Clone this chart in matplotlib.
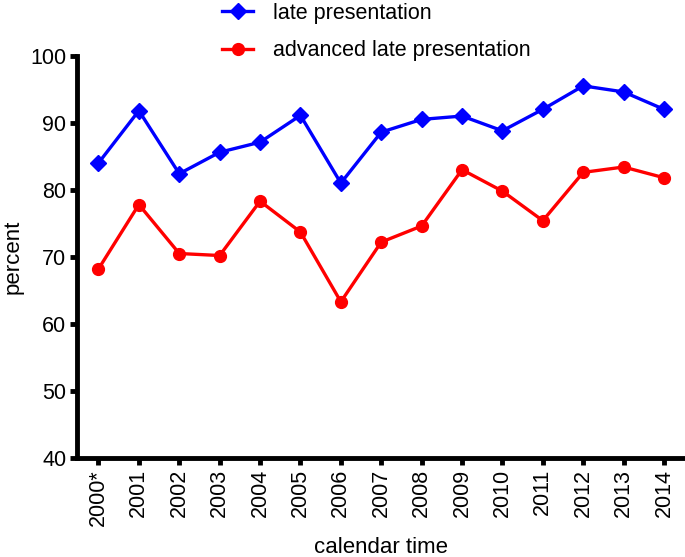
import matplotlib
matplotlib.use("Agg")
import matplotlib.pyplot as plt

plt.rcParams['font.family'] = ['Liberation Sans', 'DejaVu Sans']

years = ["2000*", "2001", "2002", "2003", "2004", "2005", "2006", "2007",
         "2008", "2009", "2010", "2011", "2012", "2013", "2014"]
late = [84.0, 91.8, 82.4, 85.6, 87.1, 91.1, 81.0, 88.6, 90.5, 91.0, 88.8,
        92.0, 95.5, 94.6, 92.0]
advanced = [68.2, 77.8, 70.5, 70.2, 78.3, 73.7, 63.3, 72.2, 74.6, 83.0,
            79.8, 75.4, 82.6, 83.4, 81.8]
yticks = [40, 50, 60, 70, 80, 90, 100]

fig = plt.figure(figsize=(6.85, 5.57), dpi=100)
ax = fig.add_axes([0.1131, 0.1777, 0.8869, 0.7223])

x = list(range(len(years)))
l1, = ax.plot(x, late, color='#0000ff', lw=2.4, marker='D', markersize=8,
              label='late presentation', clip_on=False, zorder=3)
l2, = ax.plot(x, advanced, color='#ff0000', lw=2.4, marker='o', markersize=8.5,
              label='advanced late presentation', clip_on=False, zorder=3)

ax.set_xlim(-0.52, 14.52)
ax.set_ylim(40, 100)
ax.set_yticks(yticks)
ax.set_xticks(x)
ax.set_xticklabels(years, rotation=90)
for s in ['top', 'right']:
    ax.spines[s].set_visible(False)
for s in ['left', 'bottom']:
    ax.spines[s].set_linewidth(3.5)
    ax.spines[s].set_capstyle('projecting')
ax.tick_params(axis='both', width=3.5, length=5, labelsize=15.5,
               direction='out', pad=3)
ax.set_ylabel('percent', fontsize=16)
ax.set_xlabel('calendar time', fontsize=16)
ax.yaxis.set_label_coords(-0.089, 0.5)
ax.xaxis.set_label_coords(0.5, -0.196)

fig.legend(handles=[l1, l2], loc='upper left', bbox_to_anchor=(0.324, 0.9946),
           frameon=False, fontsize=15.5, handlelength=1.45, handletextpad=0.9,
           labelspacing=0.75, borderpad=0, borderaxespad=0)

fig.savefig('out.png', dpi=100)
